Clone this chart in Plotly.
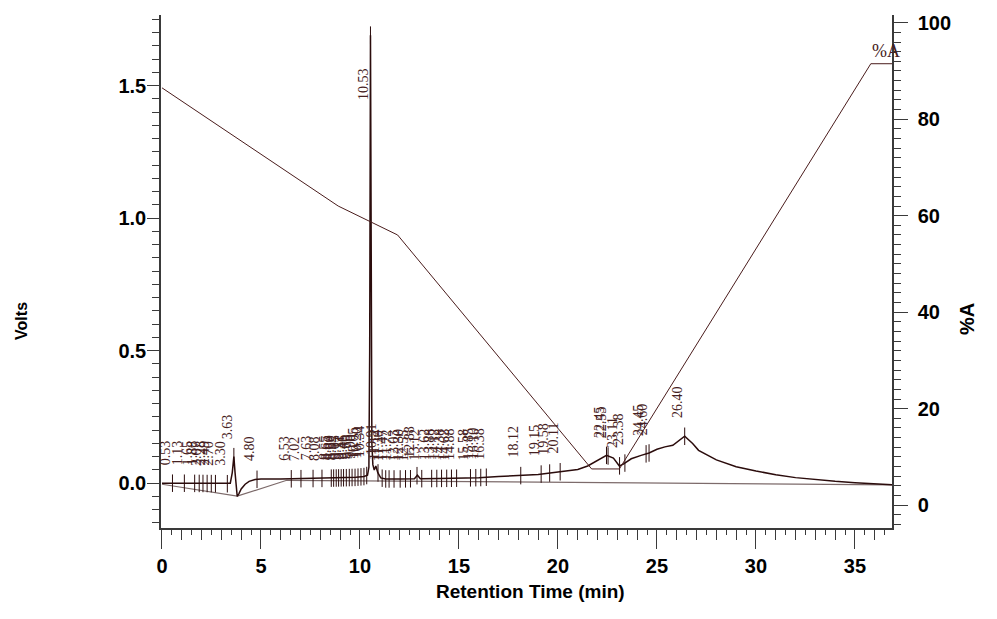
import numpy as np
import plotly.graph_objects as go

# Detector trace (retention time in minutes, signal in AU)
time_min = [0.0, 1.0, 2.0, 3.0, 3.35, 3.45, 3.55, 3.63, 3.69, 3.74, 3.80, 3.88, 4.0,
            4.2, 4.4, 4.7, 5.0, 6.0, 7.0, 8.0, 9.0, 9.8, 10.2, 10.38, 10.45, 10.49,
            10.53, 10.56, 10.60, 10.65, 10.72, 10.80, 10.90, 11.05, 11.3, 12.0, 12.75,
            12.9, 13.05, 14.0, 15.0, 16.0, 17.0, 18.0, 19.0, 20.0, 21.0, 21.5, 22.0,
            22.45, 22.8, 23.1, 23.3, 23.7, 24.2, 24.6, 25.0, 25.4, 25.8, 26.1, 26.4,
            26.8, 27.1, 28.0, 29.0, 30.0, 31.0, 32.0, 33.0, 34.0, 35.0, 36.0, 36.9]
signal_au = [0.0, 0.0, -0.001, -0.002, -0.002, 0.0, 0.04, 0.10, 0.04, -0.02, -0.05,
             -0.04, -0.022, -0.004, 0.007, 0.014, 0.016, 0.016, 0.017, 0.018, 0.020,
             0.022, 0.025, 0.03, 0.06, 0.5, 1.69, 0.8, 0.15, 0.07, 0.05, 0.065, 0.04,
             0.02, 0.016, 0.016, 0.017, 0.03, 0.017, 0.018, 0.019, 0.021, 0.025, 0.028,
             0.033, 0.042, 0.052, 0.065, 0.085, 0.105, 0.095, 0.065, 0.072, 0.092,
             0.105, 0.114, 0.128, 0.137, 0.143, 0.16, 0.177, 0.15, 0.124, 0.088,
             0.062, 0.046, 0.032, 0.021, 0.013, 0.007, 0.002, -0.003, -0.006]

# Integration baseline
base_time = [0.0, 3.80, 6.30, 36.9]
base_au = [-0.004, -0.049, 0.011, -0.006]

# Solvent programme (%A)
grad_time = [0.0, 8.9, 11.9, 21.7, 23.1, 35.8, 36.9]
grad_pct = [86.5, 62.0, 56.0, 7.5, 7.5, 91.5, 91.5]

# Detected peaks (retention times, min)
peak_rt = [0.53, 1.13, 1.65, 1.88, 2.07, 2.28, 2.49, 2.70, 3.30, 3.63, 4.80,
           6.53, 7.02, 7.63, 8.08, 8.55, 8.67, 8.80, 8.92, 9.05, 9.17, 9.31, 9.46,
           9.60, 9.75, 9.90, 10.05, 10.20, 10.34, 10.53, 10.91, 11.12, 11.30, 11.47,
           11.72, 12.03, 12.30, 12.55, 12.88, 13.12, 13.62, 13.88, 14.12, 14.38,
           14.62, 14.88, 15.58, 15.85, 16.10, 16.38, 18.12, 19.15, 19.58, 20.11,
           22.45, 22.53, 23.11, 23.38, 24.45, 24.60, 26.40]

x_ticks = [0, 5, 10, 15, 20, 25, 30, 35]
au_ticks = [0.0, 0.5, 1.0, 1.5]
pct_ticks = [0, 20, 40, 60, 80, 100]

TRACE = "#2b0c0c"
LABEL = "#452020"
AXIS = "#3a3a3a"
SANS = "Liberation Sans, Arial, sans-serif"
SERIF = "Liberation Serif, Times New Roman, serif"
TICKFONT = dict(family=SANS, size=20, color="black", weight="bold")

x_range = [-0.05, 36.87]

fig = go.Figure()

# peak marker ticks crossing the trace
peak_y = np.interp(peak_rt, time_min, signal_au)
tx, ty = [], []
for t, v in zip(peak_rt, peak_y):
    tx += [t, t, None]
    ty += [v - 0.033, v + 0.033, None]

fig.add_trace(go.Scatter(x=base_time, y=base_au, mode="lines",
                         line=dict(color="#7d6b6b", width=1.2), hoverinfo="skip"))
fig.add_trace(go.Scatter(x=time_min, y=signal_au, mode="lines",
                         line=dict(color=TRACE, width=1.5), hoverinfo="skip"))
fig.add_trace(go.Scatter(x=tx, y=ty, mode="lines",
                         line=dict(color=TRACE, width=1), hoverinfo="skip"))
fig.add_trace(go.Scatter(x=grad_time, y=grad_pct, mode="lines", xaxis="x2", yaxis="y2",
                         line=dict(color="#4a1c1c", width=1), hoverinfo="skip"))

# rotated retention-time labels
label_y = np.minimum(peak_y + 0.06, 1.44)
for t, ly in zip(peak_rt, label_y):
    fig.add_annotation(x=t, y=ly, xref="x", yref="y", text=f"{t:.2f}", textangle=-90,
                       xanchor="center", yanchor="bottom", xshift=-7, showarrow=False,
                       font=dict(family=SERIF, size=14, color=LABEL))

fig.add_annotation(x=0.992, y=0.930, xref="paper", yref="paper", text="%A",
                   showarrow=False, xanchor="center", yanchor="middle",
                   font=dict(family=SERIF, size=18, color=LABEL))

# axis titles
fig.add_annotation(x=0.505, y=-0.149, xref="paper", yref="paper",
                   text="Retention Time (min)", showarrow=False,
                   font=dict(family=SANS, size=19, color="black", weight="bold"))
fig.add_annotation(x=-0.205, y=0.403, xref="paper", yref="paper", text="Volts",
                   textangle=-90, showarrow=False,
                   font=dict(family=SANS, size=16, color="black", weight="bold"))
fig.add_annotation(x=1.120, y=0.407, xref="paper", yref="paper", text="%A",
                   textangle=-90, showarrow=False,
                   font=dict(family=SANS, size=20, color="black", weight="bold"))

fig.update_layout(
    width=997, height=619,
    margin=dict(l=161, r=105, t=12, b=91),
    paper_bgcolor="white", plot_bgcolor="white",
    showlegend=False,
    xaxis=dict(range=x_range, tickmode="linear", tick0=0, dtick=1,
               ticks="outside", ticklen=10, tickwidth=1, tickcolor=AXIS,
               showticklabels=False, showline=True, linecolor=AXIS, linewidth=1.5,
               showgrid=False, zeroline=False,
               minor=dict(tick0=0, dtick=0.5, ticks="outside", ticklen=5,
                          tickcolor=AXIS, showgrid=False)),
    xaxis2=dict(range=x_range, overlaying="x", anchor="y", side="bottom",
                tickvals=x_ticks, ticktext=[str(v) for v in x_ticks],
                ticks="outside", ticklen=20, tickwidth=1, tickcolor=AXIS,
                tickfont=TICKFONT, showline=False, showgrid=False, zeroline=False),
    yaxis=dict(range=[-0.169, 1.766], tickvals=au_ticks,
               ticktext=[f"{v:.1f}" for v in au_ticks],
               ticks="outside", ticklen=12, tickwidth=1, tickcolor=AXIS,
               ticklabelstandoff=-3,
               tickfont=TICKFONT, showline=True, linecolor=AXIS, linewidth=1.5,
               showgrid=False, zeroline=False,
               minor=dict(tick0=0, dtick=0.05, ticks="outside", ticklen=7,
                          tickcolor=AXIS, showgrid=False)),
    yaxis2=dict(range=[-4.74, 101.6], overlaying="y", anchor="x2", side="right",
                tickvals=pct_ticks, ticktext=[str(v) for v in pct_ticks],
                ticks="outside", ticklen=14, tickwidth=1, tickcolor=AXIS,
                ticklabelstandoff=6,
                tickfont=TICKFONT, showline=True, linecolor=AXIS, linewidth=1.5,
                showgrid=False, zeroline=False,
                minor=dict(tick0=0, dtick=2, ticks="outside", ticklen=7,
                           tickcolor=AXIS, showgrid=False)),
)

fig.write_html("out.html")
